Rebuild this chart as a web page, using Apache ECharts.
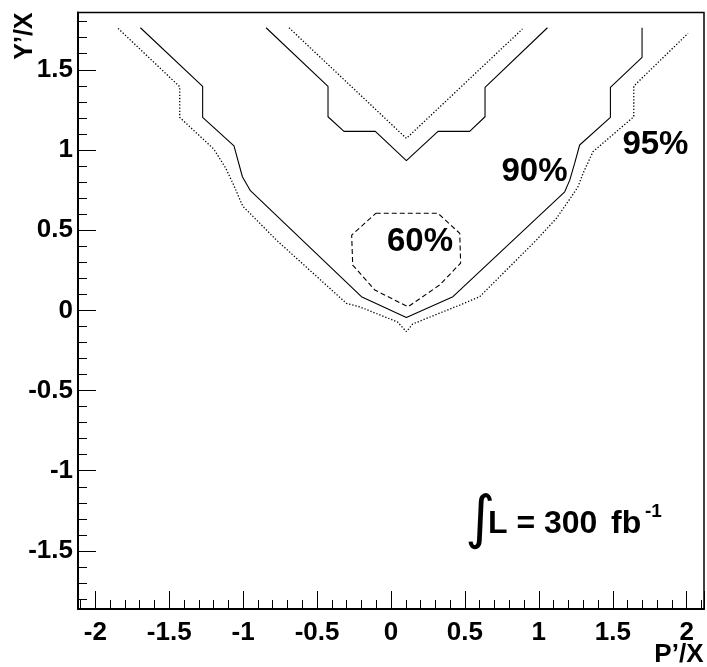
<!DOCTYPE html>
<html lang="en">
<head>
  <meta charset="UTF-8">
  <title>Contours P'/X vs Y'/X</title>
  <style>
    html, body { margin: 0; padding: 0; background: #fff; }
    #chart { width: 707px; height: 667px; }
  </style>
</head>
<body>
  <div id="chart"></div>
  <script src="https://cdn.jsdelivr.net/npm/echarts@6/dist/echarts.min.js"></script>
  <script>
  // contour lines, [P'/X, Y'/X]
  let contour90Outer = [
    [-1.695, 1.762], [-1.274, 1.397], [-1.274, 1.203], [-1.062, 1.026],
    [-1.005, 0.833], [-0.951, 0.746], [-0.200, 0.085], [0.104, -0.044],
    [0.419, 0.085], [1.175, 0.739], [1.209, 0.812], [1.242, 0.916],
    [1.276, 1.031], [1.484, 1.203], [1.484, 1.390], [1.698, 1.577],
    [1.698, 1.762]
  ]
  let contour90Inner = [
    [-0.845, 1.762], [-0.426, 1.397], [-0.426, 1.207], [-0.318, 1.116],
    [-0.106, 1.116], [0.104, 0.933], [0.318, 1.116], [0.532, 1.116],
    [0.636, 1.207], [0.636, 1.390], [1.058, 1.762]
  ]
  let contour95Outer = [
    [-1.846, 1.758], [-1.429, 1.394], [-1.429, 1.203], [-1.199, 1.006],
    [-1.118, 0.887], [-1.064, 0.781], [-1.003, 0.650], [-0.922, 0.575],
    [-0.775, 0.438], [-0.302, 0.044], [-0.212, 0.022], [0.045, -0.073],
    [0.104, -0.133], [0.147, -0.085], [0.465, 0.033], [0.600, 0.085],
    [0.983, 0.438], [1.119, 0.574], [1.220, 0.708], [1.265, 0.771],
    [1.299, 0.854], [1.366, 0.989], [1.642, 1.207], [1.642, 1.398],
    [2.009, 1.727]
  ]
  let contour95Inner = [
    [-0.690, 1.762], [0.104, 1.072], [0.889, 1.754]
  ]
  let contour60 = [
    [-0.103, 0.605], [0.318, 0.605], [0.465, 0.480], [0.471, 0.295],
    [0.329, 0.158], [0.115, 0.022], [-0.110, 0.127], [-0.259, 0.282],
    [-0.266, 0.469], [-0.103, 0.605]
  ]
  // text next to the contours: [x, y, text]
  let contourLabels = [
    [-0.027, 0.426, '60%'],
    [0.747, 0.864, '90%'],
    [1.565, 1.031, '95%']
  ]
  let xRange = [-2.117, 2.117]
  let yRange = [-1.862, 1.857]

  const FONT = '"Liberation Sans", Arial, Helvetica, sans-serif'
  let chart = echarts.init(document.getElementById('chart'))

  function axis(range, margin) {
    return {
      type: 'value',
      min: range[0],
      max: range[1],
      splitNumber: 8,
      axisLine: { show: true, onZero: false, lineStyle: { color: '#000', width: 2 } },
      axisTick: { show: true, inside: true, length: 18, lineStyle: { color: '#000', width: 1 } },
      minorTick: { show: true, splitNumber: 5, length: 9, lineStyle: { color: '#000', width: 1 } },
      splitLine: { show: false },
      minorSplitLine: { show: false },
      axisLabel: {
        color: '#000', fontSize: 26, fontWeight: 'bold', fontFamily: FONT,
        margin: margin, showMinLabel: false, showMaxLabel: false
      }
    }
  }

  function contour(data, type, width) {
    return {
      type: 'line',
      data: data,
      symbol: 'none',
      silent: true,
      lineStyle: { color: '#000', width: width, type: type, opacity: 1 }
    }
  }

  chart.setOption({
    animation: false,
    backgroundColor: '#fff',
    grid: {
      left: 78, top: 12.5, width: 626, height: 596.5,
      show: true, borderColor: '#000', borderWidth: 1.5
    },
    xAxis: axis(xRange, 11),
    yAxis: axis(yRange, 5),
    series: [
      contour(contour90Outer, 'solid', 1.1),
      contour(contour90Inner, 'solid', 1.1),
      contour(contour95Outer, [1.3, 1.9], 1.3),
      contour(contour95Inner, [1.3, 1.9], 1.3),
      contour(contour60, [5, 3], 1.1),
      {
        type: 'scatter',
        data: contourLabels,
        symbolSize: 0,
        silent: true,
        itemStyle: { opacity: 1 },
        label: {
          show: true,
          position: 'inside',
          align: 'left',
          verticalAlign: 'middle',
          formatter: p => p.data[2],
          color: '#000',
          opacity: 1,
          fontSize: 33,
          fontWeight: 'bold',
          fontFamily: FONT
        }
      }
    ],
    graphic: [
      {
        type: 'text', x: 703.5, y: 654.5,
        style: { text: 'P’/X', fill: '#000', font: 'bold 26px ' + FONT, align: 'right', verticalAlign: 'middle' }
      },
      {
        type: 'text', x: 25, y: 12.5, rotation: Math.PI / 2,
        style: { text: 'Y’/X', fill: '#000', font: 'bold 25px ' + FONT, align: 'right', verticalAlign: 'middle' }
      },
      {
        type: 'text', x: 480, y: 522,
        style: { text: '∫', fill: '#000', font: '58px "DejaVu Sans"', align: 'center', verticalAlign: 'middle' }
      },
      {
        type: 'text', x: 488, y: 523.7,
        style: { text: 'L = 300', fill: '#000', font: 'bold 32px ' + FONT, align: 'left', verticalAlign: 'middle' }
      },
      {
        type: 'text', x: 611, y: 523.7,
        style: { text: 'fb', fill: '#000', font: 'bold 32px ' + FONT, align: 'left', verticalAlign: 'middle' }
      },
      {
        type: 'text', x: 645, y: 511.7,
        style: { text: '-1', fill: '#000', font: 'bold 19px ' + FONT, align: 'left', verticalAlign: 'middle' }
      }
    ]
  })
  </script>
</body>
</html>
